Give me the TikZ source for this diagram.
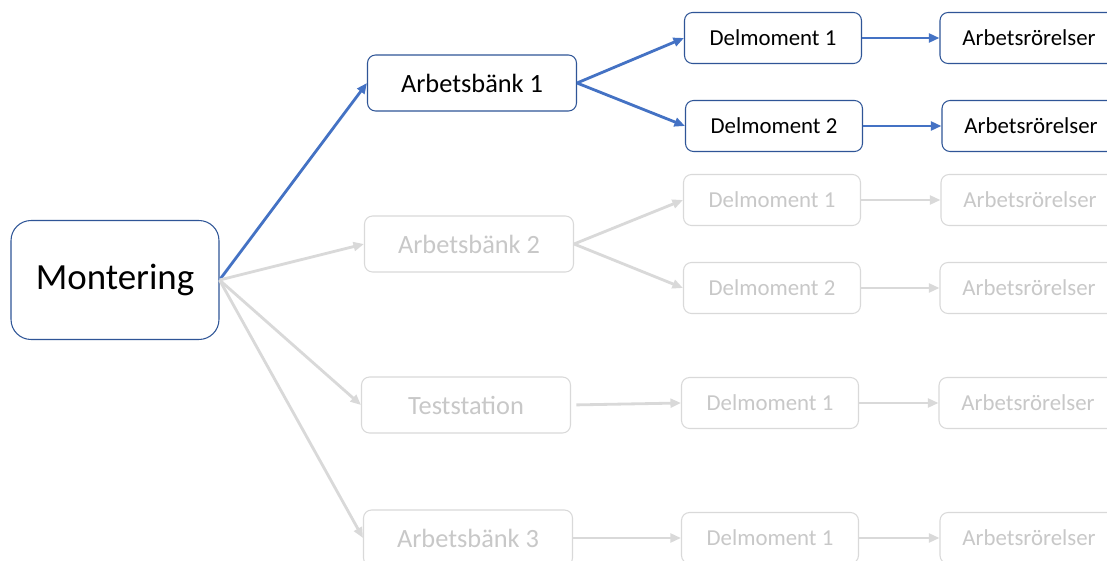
\documentclass[tikz,border=0pt]{standalone}
\usepackage{fontspec}
\setmainfont{Carlito}
\usetikzlibrary{arrows.meta,positioning}
\definecolor{lineblue}{HTML}{4472C4}
\definecolor{boxblue}{HTML}{2F5597}
\definecolor{fadeline}{HTML}{D9D9D9}
\definecolor{fadetext}{HTML}{C8C8C8}
\tikzset{
	bench/.style={draw=boxblue, line width=0.6pt, rounded corners=0.16cm, minimum width=4.18cm, minimum height=1.12cm, inner sep=0pt, font=\fontsize{15}{18}\selectfont},
	substep/.style={bench, minimum width=3.54cm, minimum height=1.02cm, font=\fontsize{13}{16}\selectfont},
	motion/.style={substep, minimum width=3.56cm},
	faded/.style={draw=fadeline, text=fadetext},
	link/.style={-{Triangle[length=6pt,width=5pt]}, line width=1.6pt, lineblue},
	fadelink/.style={link, fadeline},
}

\begin{document}
\begin{tikzpicture}[x=0.02cm, y=-0.02cm]
			\useasboundingbox (0,0) rectangle (1107,561);
			\clip (0,0) rectangle (1107,561);
			\fill[white] (0,0) rectangle (1107,561);
			%leftpart
			\node[bench, minimum width=4.16cm, minimum height=2.38cm, rounded corners=0.4cm, font=\fontsize{21}{25}\selectfont](mont) at (115,280){Montering};
			%benches
			\node[bench](b1) at (472,83){Arbetsbänk 1};
			\node[bench, faded](b2) at (469,244){Arbetsbänk 2};
			\node[bench, faded](ts) at (466,405){Teststation};
			\node[bench, faded](b3) at (468,538){Arbetsbänk 3};
			%substeps
			\node[substep](d11) at (773,38){Delmoment 1};
			\node[substep](d12) at (774,126){Delmoment 2};
			\node[substep, faded](d21) at (772,200){Delmoment 1};
			\node[substep, faded](d22) at (772,288){Delmoment 2};
			\node[substep, faded](dts) at (770,403){Delmoment 1};
			\node[substep, faded](d3) at (770,538){Delmoment 1};
			%motions
			\node[motion](a11) at (1029,38){Arbetsrörelser};
			\node[motion](a12) at (1031,126){Arbetsrörelser};
			\node[motion, faded](a21) at (1030,200){Arbetsrörelser};
			\node[motion, faded](a22) at (1029,288){Arbetsrörelser};
			\node[motion, faded](ats) at (1028,403){Arbetsrörelser};
			\node[motion, faded](a3) at (1029,538){Arbetsrörelser};
			%arrows from montering
			\draw[link] (mont.east) -- (b1.west);
			\draw[fadelink] (mont.east) -- (b2.west);
			\draw[fadelink] (mont.east) -- (ts.west);
			\draw[fadelink] (mont.east) -- (b3.west);
			%arrows from benches
			\draw[link] (b1.east) -- (d11.west);
			\draw[link] (b1.east) -- (d12.west);
			\draw[fadelink] (b2.east) -- (d21.west);
			\draw[fadelink] (b2.east) -- (d22.west);
			\draw[fadelink, shorten <=3pt] (ts.east) -- (dts.west);
			\draw[fadelink] (b3.east) -- (d3.west);
			%arrows to motions
			\draw[link] (d11) -- (a11);
			\draw[link] (d12) -- (a12);
			\draw[fadelink] (d21) -- (a21);
			\draw[fadelink] (d22) -- (a22);
			\draw[fadelink] (dts) -- (ats);
			\draw[fadelink] (d3) -- (a3);
\end{tikzpicture}
\end{document}
